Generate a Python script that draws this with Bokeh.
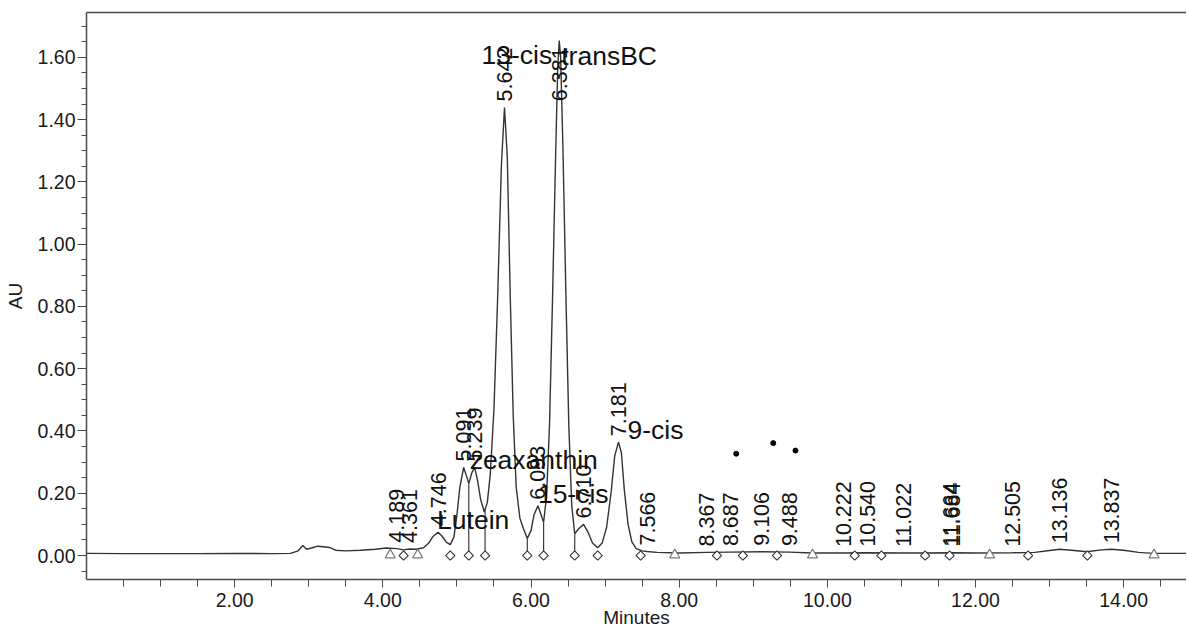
import numpy as np
from bokeh.plotting import figure
from bokeh.models import Range1d, FixedTicker, PrintfTickFormatter, LinearAxis, ColumnDataSource
from bokeh.core.properties import value
from bokeh.embed import file_html
from bokeh.resources import INLINE

# ---- chromatogram trace (minutes, AU) ----
trace_min = [0.00, 0.50, 1.00, 1.50, 2.00, 2.50, 2.75, 2.85, 2.92, 2.97, 3.05, 3.12, 3.20, 3.28,
             3.36, 3.50, 3.70, 3.90, 4.05, 4.19, 4.28, 4.36, 4.45, 4.55, 4.62, 4.68, 4.746, 4.80,
             4.86, 4.91, 4.96, 5.00, 5.04, 5.091, 5.13, 5.16, 5.20, 5.239, 5.28, 5.32, 5.37, 5.41,
             5.45, 5.50, 5.55, 5.60, 5.642, 5.68, 5.72, 5.76, 5.80, 5.85, 5.90, 5.95, 6.00, 6.04,
             6.093, 6.13, 6.17, 6.21, 6.25, 6.29, 6.33, 6.36, 6.381, 6.40, 6.43, 6.47, 6.51, 6.55,
             6.59, 6.64, 6.71, 6.77, 6.83, 6.90, 6.96, 7.02, 7.08, 7.13, 7.181, 7.22, 7.26, 7.31,
             7.36, 7.42, 7.50, 7.566, 7.70, 8.00, 8.37, 8.69, 9.11, 9.49, 9.80, 10.22, 10.54, 11.02,
             11.30, 11.67, 12.00, 12.505, 12.80, 13.00, 13.136, 13.30, 13.50, 13.70, 13.837, 14.00,
             14.20, 14.40, 14.86]
trace_au = [0.007, 0.006, 0.006, 0.006, 0.007, 0.006, 0.007, 0.014, 0.032, 0.020, 0.025, 0.030, 0.028, 0.026,
            0.017, 0.015, 0.017, 0.020, 0.024, 0.022, 0.018, 0.021, 0.020, 0.025, 0.040, 0.062, 0.075, 0.062,
            0.042, 0.035, 0.060, 0.130, 0.220, 0.283, 0.255, 0.231, 0.265, 0.283, 0.240, 0.180, 0.140, 0.170,
            0.260, 0.470, 0.830, 1.250, 1.439, 1.280, 0.830, 0.450, 0.220, 0.120, 0.085, 0.055, 0.080, 0.130,
            0.160, 0.135, 0.107, 0.190, 0.420, 0.820, 1.260, 1.560, 1.654, 1.600, 1.320, 0.850, 0.420, 0.160,
            0.070, 0.085, 0.100, 0.075, 0.040, 0.025, 0.040, 0.090, 0.200, 0.320, 0.364, 0.330, 0.210, 0.100,
            0.045, 0.022, 0.015, 0.013, 0.010, 0.008, 0.010, 0.011, 0.012, 0.011, 0.008, 0.008, 0.009, 0.008,
            0.008, 0.009, 0.008, 0.009, 0.010, 0.016, 0.020, 0.017, 0.012, 0.018, 0.020, 0.017,
            0.010, 0.007, 0.007]

# ---- integrated peaks: retention time labels and apex heights ----
peak_rt = [4.189, 4.361, 4.746, 5.091, 5.239, 5.642, 6.093, 6.381, 6.710, 7.181, 7.566,
           8.367, 8.687, 9.106, 9.488, 10.222, 10.540, 11.022, 11.664, 11.684, 12.505, 13.136, 13.837]
peak_label = ["4.189", "4.361", "4.746", "5.091", "5.239", "5.642", "6.093", "6.381", "6.710", "7.181", "7.566",
              "8.367", "8.687", "9.106", "9.488", "10.222", "10.540", "11.022", "11.664", "11.684", "12.505",
              "13.136", "13.837"]
peak_au = [0.022, 0.021, 0.075, 0.283, 0.283, 1.439, 0.160, 1.654, 0.100, 0.364, 0.013,
           0.010, 0.011, 0.012, 0.011, 0.008, 0.009, 0.008, 0.009, 0.009, 0.009, 0.020, 0.020]

# ---- named peaks ----
name_text = ["Lutein", "zeaxanthin", "15-cis", "13-cis", "transBC", "9-cis"]
name_rt = [4.746, 5.239, 6.093, 5.642, 6.381, 7.181]
name_au = [0.075, 0.283, 0.160, 1.439, 1.654, 0.364]
name_dx = [-1, -5, 0, -23, 2, 9]       # pixel layout offsets
name_dy = [-12, -7, -12, -52, 15, -12]

# ---- peak start/end markers ----
tri_min = [4.10, 4.47, 7.94, 9.80, 12.19, 14.41]
dia_min = [4.28, 4.91, 5.16, 5.38, 5.95, 6.17, 6.59, 6.90, 7.48, 8.51, 8.86, 9.32,
           10.37, 10.73, 11.32, 11.65, 12.71, 13.51]
drop_min = [5.16, 5.38, 5.95, 6.17, 6.59]

# ---- stray dots ----
dot_min = [8.77, 9.27, 9.57]
dot_au = [0.327, 0.361, 0.337]

FONT = value("Liberation Sans")

p = figure(width=1186, height=632,
           min_border_left=86, min_border_right=0, min_border_top=12, min_border_bottom=53,
           x_range=Range1d(0, 14.848), y_range=Range1d(-0.077, 1.744),
           output_backend="svg", toolbar_location=None)
p.outline_line_color = None
p.grid.visible = False
p.background_fill_color = "white"
p.border_fill_color = "white"

AX = "#4a4a4a"
# x axis
xa = p.xaxis[0]
xa.ticker = FixedTicker(ticks=list(np.arange(2, 15, 2.0)),
                        minor_ticks=[v for v in np.arange(0.5, 14.8, 0.5) if v % 2 != 0])
xa.formatter = PrintfTickFormatter(format="%.2f")
xa.axis_line_color = AX
xa.axis_line_width = 1.5
xa.major_tick_line_color = AX
xa.minor_tick_line_color = AX
xa.major_tick_in = 0
xa.major_tick_out = 8
xa.minor_tick_in = 0
xa.minor_tick_out = 7
xa.major_label_standoff = 5
xa.major_label_text_font = "Liberation Sans"
xa.major_label_text_font_size = "19.5px"
xa.major_label_text_color = "#1a1a1a"
xa.axis_label = "Minutes"
xa.axis_label_text_font = "Liberation Sans"
xa.axis_label_text_font_size = "19px"
xa.axis_label_text_font_style = "normal"
xa.axis_label_text_color = "#1a1a1a"
xa.axis_label_standoff = -3

# y axis
ya = p.yaxis[0]
ya.ticker = FixedTicker(ticks=[round(v, 2) for v in np.arange(0, 1.61, 0.2)],
                        minor_ticks=[round(v, 2) for v in np.arange(-0.05, 1.74, 0.05)])
ya.formatter = PrintfTickFormatter(format="%.2f")
ya.axis_line_color = AX
ya.axis_line_width = 1.5
ya.major_tick_line_color = AX
ya.minor_tick_line_color = AX
ya.major_tick_in = 0
ya.major_tick_out = 9
ya.minor_tick_in = 0
ya.minor_tick_out = 5
ya.major_label_standoff = 2
ya.major_label_text_font = "Liberation Sans"
ya.major_label_text_font_size = "19.5px"
ya.major_label_text_color = "#1a1a1a"
ya.axis_label = "AU"
ya.axis_label_text_font = "Liberation Sans"
ya.axis_label_text_font_size = "19px"
ya.axis_label_text_font_style = "normal"
ya.axis_label_text_color = "#1a1a1a"
ya.axis_label_standoff = 9

# top border line
top = LinearAxis(ticker=FixedTicker(ticks=[]), axis_line_color=AX, axis_line_width=1.5,
                 major_tick_line_color=None, minor_tick_line_color=None,
                 major_tick_out=0, major_tick_in=0, minor_tick_out=0, minor_tick_in=0,
                 major_label_standoff=0, major_label_text_font_size="0px")
p.add_layout(top, "above")

# trace
p.line(trace_min, trace_au, line_color="#333333", line_width=1.4)

# drop lines at valleys
drop_top = np.interp(drop_min, trace_min, trace_au)
p.segment(x0=drop_min, y0=[0.0] * len(drop_min), x1=drop_min, y1=list(drop_top),
          line_color="#3c3c3c", line_width=1.2)

# markers
p.scatter(tri_min, [0.002] * len(tri_min), marker="triangle", size=10,
          fill_color="white", line_color="#7a7a7a", line_width=1.2)
p.scatter(dia_min, [0.0] * len(dia_min), marker="square", angle=np.pi / 4, size=6.5,
          fill_color="white", line_color="#333333", line_width=1.1)

# dots
p.scatter(dot_min, dot_au, marker="circle", size=5, fill_color="black", line_color="black")

# retention-time labels (rotated)
lab_au = list(np.minimum(np.array(peak_au), 1.44))
p.text(x=peak_rt, y=lab_au, text=peak_label, angle=np.pi / 2,
       text_align="left", text_baseline="middle", y_offset=-6,
       text_font=FONT, text_font_size="21.5px", text_color="#111111")

# peak names
src = ColumnDataSource(dict(x=name_rt, y=name_au, t=name_text, dx=name_dx, dy=name_dy))
p.text(x="x", y="y", text="t", x_offset="dx", y_offset="dy", source=src,
       text_align="left", text_baseline="alphabetic",
       text_font=FONT, text_font_size="26.5px", text_color="#111111")

open("out.html", "w").write(file_html(p, INLINE))
